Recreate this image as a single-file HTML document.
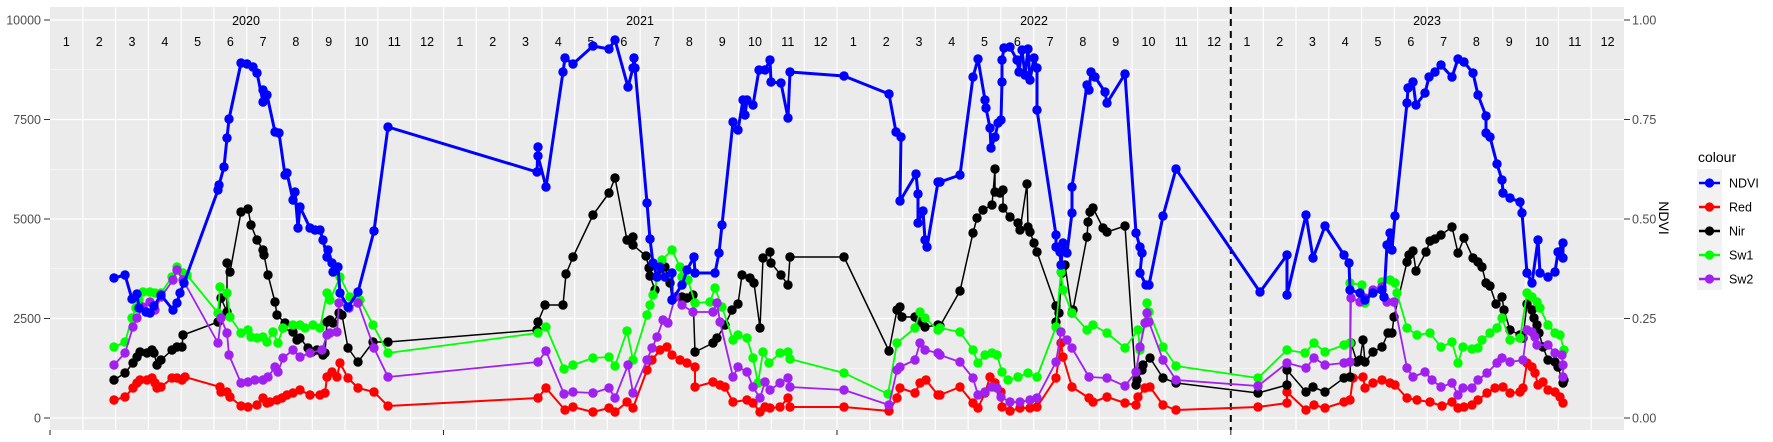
<!DOCTYPE html>
<html><head><meta charset="utf-8"><style>
html,body{margin:0;padding:0;background:#fff;}
svg{display:block;font-family:"Liberation Sans",Arial,sans-serif;}
</style></head><body>
<svg width="1773" height="442" viewBox="0 0 1773 442" xmlns="http://www.w3.org/2000/svg">
<defs>
<marker id="mb" markerUnits="userSpaceOnUse" markerWidth="12" markerHeight="12" refX="6" refY="6"><circle cx="6" cy="6" r="4.7" fill="#0000FF"/></marker>
<marker id="mr" markerUnits="userSpaceOnUse" markerWidth="12" markerHeight="12" refX="6" refY="6"><circle cx="6" cy="6" r="4.7" fill="#FF0000"/></marker>
<marker id="mk" markerUnits="userSpaceOnUse" markerWidth="12" markerHeight="12" refX="6" refY="6"><circle cx="6" cy="6" r="4.7" fill="#000"/></marker>
<marker id="mg" markerUnits="userSpaceOnUse" markerWidth="12" markerHeight="12" refX="6" refY="6"><circle cx="6" cy="6" r="4.7" fill="#00FF00"/></marker>
<marker id="mp" markerUnits="userSpaceOnUse" markerWidth="12" markerHeight="12" refX="6" refY="6"><circle cx="6" cy="6" r="4.7" fill="#A020F0"/></marker>
</defs>
<rect x="50" y="7" width="1574" height="423" fill="#EBEBEB"/>
<g stroke="#fff" stroke-width="0.6">
<line x1="50" x2="1624" y1="69.75" y2="69.75"/><line x1="50" x2="1624" y1="169.25" y2="169.25"/><line x1="50" x2="1624" y1="268.75" y2="268.75"/><line x1="50" x2="1624" y1="368.25" y2="368.25"/>
</g>
<g stroke="#fff" stroke-width="1.2">
<line x1="50" x2="1624" y1="20" y2="20"/><line x1="50" x2="1624" y1="119.5" y2="119.5"/><line x1="50" x2="1624" y1="219" y2="219"/><line x1="50" x2="1624" y1="318.5" y2="318.5"/><line x1="50" x2="1624" y1="418" y2="418"/>
<path d="M82.8 7V430M115.6 7V430M148.4 7V430M181.2 7V430M213.9 7V430M246.7 7V430M279.5 7V430M312.3 7V430M345.1 7V430M377.9 7V430M410.7 7V430M443.5 7V430M476.3 7V430M509.1 7V430M541.9 7V430M574.6 7V430M607.4 7V430M640.2 7V430M673 7V430M705.8 7V430M738.6 7V430M771.4 7V430M804.2 7V430M837 7V430M869.8 7V430M902.6 7V430M935.3 7V430M968.1 7V430M1000.9 7V430M1033.7 7V430M1066.5 7V430M1099.3 7V430M1132.1 7V430M1164.9 7V430M1197.7 7V430M1230.5 7V430M1263.3 7V430M1296 7V430M1328.8 7V430M1361.6 7V430M1394.4 7V430M1427.2 7V430M1460 7V430M1492.8 7V430M1525.6 7V430M1558.4 7V430M1591.2 7V430"/>
</g>
<g font-size="12.5" fill="#000" text-anchor="middle">
<text x="246" y="25">2020</text><text x="640" y="25">2021</text><text x="1034" y="25">2022</text><text x="1427" y="25">2023</text>
</g>
<g font-size="12.5" fill="#000" text-anchor="middle">
<text x="66.4" y="46">1</text><text x="99.2" y="46">2</text><text x="132" y="46">3</text><text x="164.8" y="46">4</text><text x="197.6" y="46">5</text><text x="230.3" y="46">6</text><text x="263.1" y="46">7</text><text x="295.9" y="46">8</text><text x="328.7" y="46">9</text><text x="361.5" y="46">10</text><text x="394.3" y="46">11</text><text x="427.1" y="46">12</text>
<text x="459.9" y="46">1</text><text x="492.7" y="46">2</text><text x="525.5" y="46">3</text><text x="558.3" y="46">4</text><text x="591" y="46">5</text><text x="623.8" y="46">6</text><text x="656.6" y="46">7</text><text x="689.4" y="46">8</text><text x="722.2" y="46">9</text><text x="755" y="46">10</text><text x="787.8" y="46">11</text><text x="820.6" y="46">12</text>
<text x="853.4" y="46">1</text><text x="886.2" y="46">2</text><text x="919" y="46">3</text><text x="951.7" y="46">4</text><text x="984.5" y="46">5</text><text x="1017.3" y="46">6</text><text x="1050.1" y="46">7</text><text x="1082.9" y="46">8</text><text x="1115.7" y="46">9</text><text x="1148.5" y="46">10</text><text x="1181.3" y="46">11</text><text x="1214.1" y="46">12</text>
<text x="1246.9" y="46">1</text><text x="1279.7" y="46">2</text><text x="1312.4" y="46">3</text><text x="1345.2" y="46">4</text><text x="1378" y="46">5</text><text x="1410.8" y="46">6</text><text x="1443.6" y="46">7</text><text x="1476.4" y="46">8</text><text x="1509.2" y="46">9</text><text x="1542" y="46">10</text><text x="1574.8" y="46">11</text><text x="1607.6" y="46">12</text>
</g>
<line x1="1230.8" x2="1230.8" y1="7" y2="430" stroke="#000" stroke-width="2" stroke-dasharray="7,5"/>
<g fill="none" stroke-linejoin="round">
<polyline stroke="#FF0000" stroke-width="2" marker-start="url(#mr)" marker-mid="url(#mr)" marker-end="url(#mr)" points="114,400 125,397 133,388 137,383 140,380 147,380 152,378 155,383 157,388 161,387 172,378 177,378 182,380 185,377 220,387 221,392 227,392 230,397 241,406 248,407 257,405 263,398 267,403 270,402 277,400 282,398 287,395 293,393 300,390 310,395 320,395 325,393 327,377 332,372 337,377 340,363 348,378 358,388 374,392 388,406 538,398 546,388 565,410 573,407 593,412 609,408 615,412 627,402 633,408 647,370 652,360 660,350 667,347 672,355 680,360 687,363 695,367 695,387 713,382 720,385 725,387 733,402 747,400 753,403 760,412 765,407 770,408 780,407 788,398 790,407 844,407 889,411 897,398 900,388 915,393 920,383 926,380 938,395 940,395 960,387 973,403 978,408 985,393 990,377 995,383 1001,392 1002,407 1010,411 1020,408 1030,408 1037,407 1056,378 1061,343 1063,357 1072,387 1089,398 1093,402 1107,397 1125,403 1136,405 1138,397 1145,388 1150,387 1163,405 1176,410 1258,407 1287,403 1287,392 1306,410 1314,405 1325,408 1344,402 1350,400 1353,378 1363,377 1365,388 1373,383 1382,380 1390,383 1395,385 1407,398 1417,400 1430,402 1442,406 1452,402 1458,408 1464,407 1472,405 1478,400 1487,393 1495,388 1503,387 1510,393 1520,392 1523,388 1527,363 1532,367 1535,373 1538,385 1543,382 1548,390 1555,392 1560,397 1563,403"/>
<polyline stroke="#000" stroke-width="1.5" marker-start="url(#mk)" marker-mid="url(#mk)" marker-end="url(#mk)" points="114,380 125,373 133,363 137,357 140,352 147,353 152,350 154,353 157,365 161,360 172,350 177,347 182,347 183,335 218,322 221,298 227,312 227,263 230,272 241,212 248,209 251,225 257,240 263,250 264,255 268,275 275,302 277,315 285,323 283,328 293,332 297,340 300,338 308,348 312,352 317,350 323,355 325,353 327,322 330,320 333,323 339,313 342,315 348,348 358,362 373,342 388,342 537,330 538,322 545,305 563,305 566,274 573,257 593,215 609,193 615,178 627,240 633,237 633,245 646,256 649,268 650,276 655,290 657,277 665,267 670,283 672,300 682,297 687,298 693,295 695,352 713,343 717,338 725,325 732,310 738,304 742,275 750,278 754,283 760,328 763,258 770,252 771,263 781,275 788,285 790,257 844,257 889,351 897,310 900,307 902,317 915,317 920,322 925,327 938,325 940,326 960,291 973,233 977,218 983,210 992,205 995,169 995,192 1000,193 1003,190 1003,208 1010,217 1018,223 1020,230 1027,184 1028,227 1030,232 1034,243 1037,252 1056,306 1056,322 1059,313 1062,273 1063,267 1065,265 1072,313 1073,310 1087,237 1088,222 1090,212 1093,208 1103,228 1107,232 1125,226 1136,385 1137,380 1142,370 1143,365 1150,358 1163,378 1176,383 1258,393 1287,385 1287,370 1306,392 1313,387 1325,392 1344,378 1350,377 1351,343 1357,362 1360,360 1363,340 1365,362 1373,352 1382,347 1388,333 1392,333 1394,317 1407,262 1409,255 1413,251 1416,271 1426,252 1430,241 1435,239 1441,235 1452,227 1458,253 1464,238 1473,258 1478,262 1482,267 1486,283 1490,286 1496,304 1502,297 1504,310 1510,330 1520,335 1523,338 1527,304 1532,310 1534,318 1537,325 1539,333 1543,347 1548,360 1555,362 1558,367 1563,383 1564,380"/>
<polyline stroke="#00FF00" stroke-width="1.8" marker-start="url(#mg)" marker-mid="url(#mg)" marker-end="url(#mg)" points="114,347 125,342 132,318 136,308 139,300 143,292 150,292 155,293 161,293 172,277 177,267 183,273 187,275 218,313 220,287 227,293 230,317 241,333 248,330 251,337 257,338 263,337 267,342 273,332 278,343 283,328 293,325 300,325 305,328 313,325 320,328 327,293 330,300 340,277 350,297 360,300 373,325 388,353 538,333 546,327 564,369 573,365 593,358 609,357 615,366 627,331 633,360 647,315 650,305 653,295 662,260 672,250 680,267 682,277 688,280 695,303 710,302 715,288 722,307 733,340 738,335 747,338 753,358 758,383 763,352 769,363 780,353 788,352 790,359 844,373 888,394 897,343 915,328 920,312 925,318 938,330 940,328 960,332 973,350 978,363 985,355 992,353 997,355 1002,372 1008,380 1018,377 1028,373 1037,377 1056,327 1061,272 1063,290 1072,313 1087,330 1093,325 1107,333 1125,348 1138,330 1140,350 1147,303 1149,312 1163,347 1176,366 1258,378 1287,350 1305,353 1314,343 1325,352 1344,345 1350,343 1350,283 1362,285 1365,303 1382,282 1390,280 1395,283 1397,293 1407,328 1417,335 1430,333 1441,347 1452,342 1458,363 1463,347 1472,349 1478,348 1482,340 1490,333 1497,328 1502,318 1510,340 1520,338 1527,293 1532,297 1537,302 1540,308 1548,325 1555,333 1560,335 1564,350"/>
<polyline stroke="#A020F0" stroke-width="1.8" marker-start="url(#mp)" marker-mid="url(#mp)" marker-end="url(#mp)" points="114,365 125,353 133,327 137,318 143,307 150,302 155,310 161,297 173,280 177,270 183,280 218,343 221,318 227,333 229,355 241,383 248,382 255,380 263,380 268,377 275,367 278,372 283,358 293,350 300,357 310,353 322,350 327,335 330,333 337,332 339,303 349,308 358,303 374,348 388,377 538,362 546,351 564,394 573,392 593,393 609,388 615,398 628,365 633,393 647,360 652,348 657,337 663,320 668,323 675,297 682,305 693,312 713,312 717,303 720,322 733,377 738,367 747,372 753,387 760,398 765,382 770,390 780,383 788,378 790,387 844,390 889,405 897,370 900,367 915,360 920,343 925,350 938,353 940,355 960,362 973,378 978,395 985,392 992,387 997,388 1001,397 1010,402 1020,402 1030,400 1037,398 1056,362 1061,332 1067,340 1072,348 1089,377 1107,378 1125,386 1136,372 1140,347 1145,323 1147,313 1149,322 1163,360 1176,380 1258,386 1287,363 1306,368 1314,358 1325,365 1344,363 1350,362 1351,298 1360,302 1365,298 1373,290 1382,287 1387,302 1394,302 1407,368 1413,377 1425,372 1432,380 1441,387 1452,383 1458,395 1463,388 1472,388 1478,380 1487,373 1497,363 1502,358 1510,362 1523,360 1527,330 1532,332 1535,337 1537,345 1548,345 1555,353 1562,355 1563,365 1563,377"/>
<polyline stroke="#0000FF" stroke-width="3" marker-start="url(#mb)" marker-mid="url(#mb)" marker-end="url(#mb)" points="114,278 125,275 132,299 137,294 139,308 146,312 150,313 154,306 161,295 173,310 177,303 180,293 184,283 218,190 219,185 224,167 227,138 229,119 241,63 247,64 253,67 257,73 263,102 263,90 267,95 275,132 279,133 285,175 287,173 293,200 295,192 298,228 300,207 310,228 315,230 320,230 323,240 327,257 328,250 332,263 333,272 338,267 340,293 348,307 358,292 374,231 388,127 537,172 538,147 538,156 546,187 563,72 565,58 573,64 593,46 609,49 615,40 628,87 633,68 634,58 635,68 647,203 650,239 653,263 657,277 660,267 665,277 672,273 672,300 682,285 687,270 694,257 695,273 715,273 719,253 722,225 733,122 738,130 743,100 745,115 747,100 753,105 759,70 765,70 770,60 771,82 781,83 788,118 790,72 844,76 889,94 896,132 901,137 900,201 916,174 918,194 918,223 923,211 925,240 927,247 938,182 940,182 960,175 973,77 978,59 985,100 986,108 990,128 991,148 995,137 998,123 1001,120 1002,82 1002,60 1004,48 1010,47 1017,60 1019,72 1022,50 1025,75 1028,49 1030,80 1034,58 1037,68 1037,110 1056,235 1056,247 1060,252 1061,265 1063,243 1067,253 1072,213 1072,187 1087,85 1089,90 1091,72 1095,77 1105,92 1107,103 1125,74 1136,233 1140,247 1142,253 1140,273 1146,285 1149,285 1163,216 1176,169 1260,292 1287,255 1287,295 1306,215 1313,258 1325,226 1344,255 1349,263 1350,290 1360,293 1365,300 1373,293 1382,290 1384,297 1387,245 1390,233 1392,250 1395,216 1407,103 1408,88 1413,82 1416,105 1425,93 1429,77 1435,72 1441,65 1452,77 1458,59 1464,62 1473,73 1478,95 1486,116 1486,133 1490,137 1497,164 1502,180 1503,193 1510,198 1520,202 1522,213 1527,273 1532,283 1538,240 1540,273 1548,277 1555,272 1558,252 1563,243 1563,258"/>
</g>
<g stroke="#333" stroke-width="1.1">
<path d="M44 20H50M44 119.5H50M44 219H50M44 318.5H50M44 418H50"/>
<path d="M1624 20H1630M1624 119.5H1630M1624 219H1630M1624 318.5H1630M1624 418H1630"/>
<path d="M50 430V435M443.5 430V435M837 430V435M1230.8 430V435"/>
</g>
<g font-size="12.5" fill="#4D4D4D" text-anchor="end">
<text x="41" y="24.5">10000</text><text x="41" y="124">7500</text><text x="41" y="223.5">5000</text><text x="41" y="323">2500</text><text x="41" y="422.5">0</text>
</g>
<g font-size="12.5" fill="#4D4D4D" text-anchor="start">
<text x="1632" y="24.5">1.00</text><text x="1632" y="124">0.75</text><text x="1632" y="223.5">0.50</text><text x="1632" y="323">0.25</text><text x="1632" y="422.5">0.00</text>
</g>
<text x="0" y="0" font-size="14" fill="#000" text-anchor="middle" transform="translate(1659,218) rotate(90)">NDVI</text>
<text x="1698" y="162" font-size="14" fill="#000">colour</text>
<rect x="1697" y="169" width="25" height="121" fill="#F2F2F2"/>
<g stroke-width="2.5">
<line x1="1699" x2="1720" y1="183" y2="183" stroke="#0000FF"/><circle cx="1709.5" cy="183" r="4.6" fill="#0000FF"/>
<line x1="1699" x2="1720" y1="207" y2="207" stroke="#FF0000"/><circle cx="1709.5" cy="207" r="4.6" fill="#FF0000"/>
<line x1="1699" x2="1720" y1="231" y2="231" stroke="#000"/><circle cx="1709.5" cy="231" r="4.6" fill="#000"/>
<line x1="1699" x2="1720" y1="255" y2="255" stroke="#00FF00"/><circle cx="1709.5" cy="255" r="4.6" fill="#00FF00"/>
<line x1="1699" x2="1720" y1="279" y2="279" stroke="#A020F0"/><circle cx="1709.5" cy="279" r="4.6" fill="#A020F0"/>
</g>
<g font-size="12.5" fill="#000">
<text x="1729" y="187.5">NDVI</text><text x="1729" y="211.5">Red</text><text x="1729" y="235.5">Nir</text><text x="1729" y="259.5">Sw1</text><text x="1729" y="283.5">Sw2</text>
</g>
</svg>
</body></html>
